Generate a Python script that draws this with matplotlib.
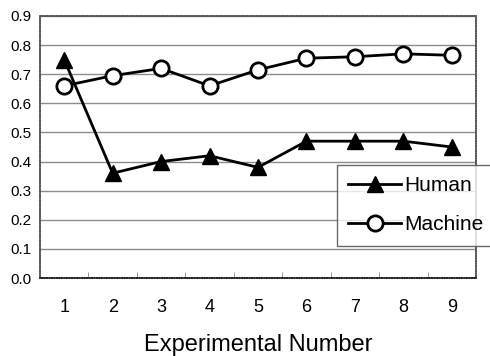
import matplotlib
matplotlib.use("Agg")
import matplotlib.pyplot as plt
from matplotlib import font_manager

experiments = [1, 2, 3, 4, 5, 6, 7, 8, 9]
human = [0.75, 0.36, 0.40, 0.42, 0.38, 0.47, 0.47, 0.47, 0.45]
machine = [0.66, 0.695, 0.72, 0.66, 0.715, 0.755, 0.76, 0.77, 0.765]
yticks = [0.0, 0.1, 0.2, 0.3, 0.4, 0.5, 0.6, 0.7, 0.8, 0.9]
ytick_labels = ["0.0", "0.1", "0.2", "0.3", "0.4", "0.5", "0.6", "0.7", "0.8", "0.9"]

names = {f.name for f in font_manager.fontManager.ttflist}
fam = "Liberation Sans Narrow" if "Liberation Sans Narrow" in names else "Liberation Sans"
plt.rcParams["font.family"] = [fam, "DejaVu Sans"]

fig = plt.figure(figsize=(4.9, 3.56), dpi=100)
ax = fig.add_axes([40/490, 1 - 278/356, 436/490, 262/356])

ax.plot(experiments, human, color="black", lw=2, marker="^", ms=11,
        mfc="black", mec="black", label="Human", zorder=3)
ax.plot(experiments, machine, color="black", lw=2, marker="o", ms=11,
        mfc="white", mec="black", mew=2, label="Machine", zorder=3)

ax.set_xlim(0.5, 9.5)
ax.set_ylim(0, 0.9)
ax.set_yticks(yticks)
ax.set_yticklabels(ytick_labels, fontsize=11)
ax.set_xticks(experiments)
ax.set_xticklabels([str(e) for e in experiments], fontsize=13)
ax.tick_params(axis="x", length=0, pad=15)
ax.tick_params(axis="y", length=0, pad=6)
ax.set_xticks([e + 0.5 for e in experiments[:-1]], minor=True)
ax.tick_params(axis="x", which="minor", direction="in", length=4, color="#888888")
ax.yaxis.grid(True, color="#8c8c8c", lw=1)
ax.set_axisbelow(True)
for s in ax.spines.values():
    s.set_color("#555555")
    s.set_linewidth(1.2)
    s.set_linestyle((0, (1, 0.5)))
ax.spines["bottom"].set_color("#222222")

ax.set_xlabel("Experimental Number", fontsize=17, labelpad=13)

leg = fig.legend(loc="upper left", bbox_to_anchor=(337/490, 1 - 165/356),
                 fontsize=15, frameon=True, fancybox=False, handlelength=2.5,
                 borderpad=0.55, labelspacing=0.95, handletextpad=0.2,
                 borderaxespad=0)
leg.get_frame().set_edgecolor("#444444")
leg.get_frame().set_linewidth(1)

fig.savefig("out.png", dpi=100)
